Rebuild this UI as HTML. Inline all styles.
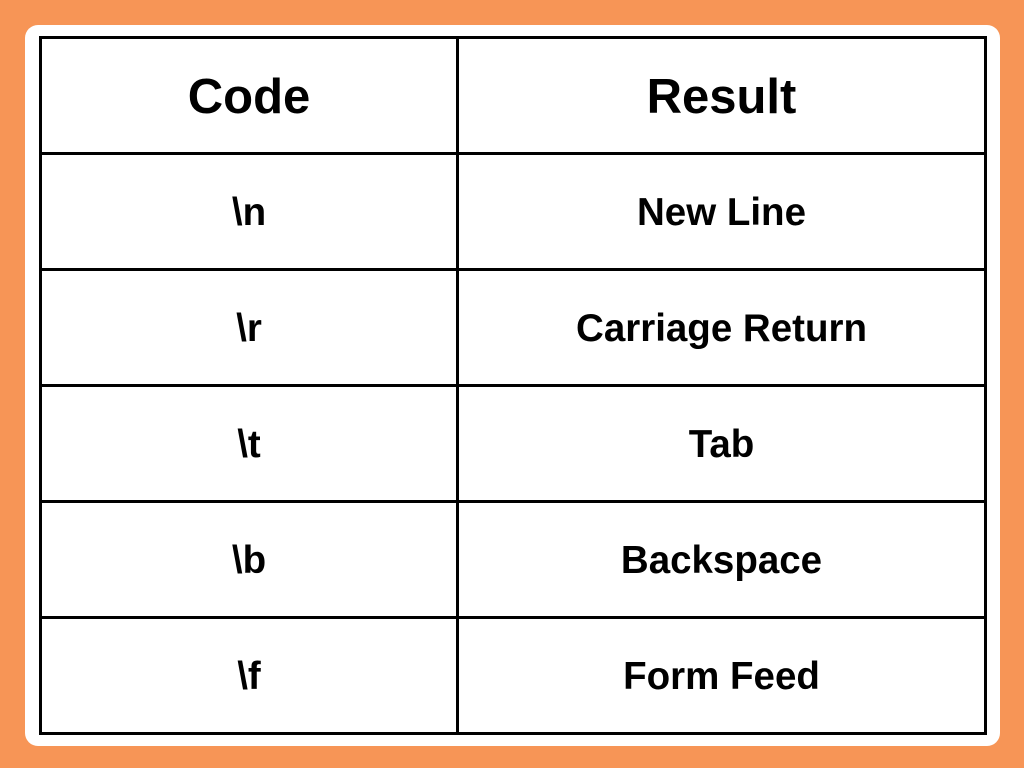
<!DOCTYPE html>
<html><head><style>
body{margin:0;width:1024px;height:768px;background:#f79556;position:relative;overflow:hidden;font-family:"Liberation Sans",Arial,sans-serif;font-weight:bold;}
.card{position:absolute;left:25px;top:25px;width:975px;height:721px;background:#fff;border-radius:13px;}
.h{position:absolute;left:39px;width:948px;height:3px;background:#000;}
.v{position:absolute;top:36px;height:699px;width:3px;background:#000;}
.t{position:absolute;text-align:center;line-height:116px;height:116px;color:#000;}
.c1{left:41px;width:416px;}
.c2{left:458px;width:527px;}
.hd{font-size:49px;}
.r{font-size:38.5px;}
</style></head><body>
<div class="card"></div>
<div class="h" style="top:36px"></div>
<div class="h" style="top:152px"></div>
<div class="h" style="top:268px"></div>
<div class="h" style="top:384px"></div>
<div class="h" style="top:500px"></div>
<div class="h" style="top:616px"></div>
<div class="h" style="top:732px"></div>
<div class="v" style="left:39px"></div>
<div class="v" style="left:456px"></div>
<div class="v" style="left:984px"></div>
<div class="t c1 hd" style="top:39px">Code</div>
<div class="t c2 hd" style="top:39px">Result</div>
<div class="t c1 r" style="top:155px">\n</div>
<div class="t c2 r" style="top:155px">New Line</div>
<div class="t c1 r" style="top:271px">\r</div>
<div class="t c2 r" style="top:271px">Carriage Return</div>
<div class="t c1 r" style="top:387px">\t</div>
<div class="t c2 r" style="top:387px">Tab</div>
<div class="t c1 r" style="top:503px">\b</div>
<div class="t c2 r" style="top:503px">Backspace</div>
<div class="t c1 r" style="top:619px">\f</div>
<div class="t c2 r" style="top:619px">Form Feed</div>
</body></html>
